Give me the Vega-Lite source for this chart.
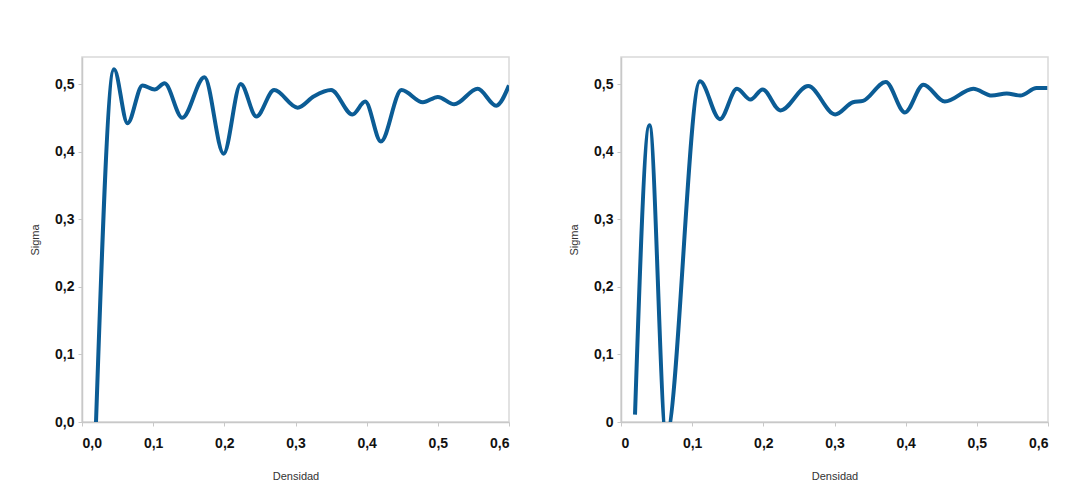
{
  "$schema": "https://vega.github.io/schema/vega-lite/v6.json",
  "background": "white",
  "padding": {"top": 56, "left": 28, "right": 10, "bottom": 5},
  "datasets": {
    "a": [
      {"d": 0.0197, "s": 0.0},
      {"d": 0.045, "s": 0.522},
      {"d": 0.064, "s": 0.442},
      {"d": 0.085, "s": 0.498},
      {"d": 0.102, "s": 0.492},
      {"d": 0.116, "s": 0.501},
      {"d": 0.141, "s": 0.450},
      {"d": 0.172, "s": 0.510},
      {"d": 0.199, "s": 0.397},
      {"d": 0.223, "s": 0.500},
      {"d": 0.245, "s": 0.452},
      {"d": 0.270, "s": 0.491},
      {"d": 0.303, "s": 0.465},
      {"d": 0.326, "s": 0.482},
      {"d": 0.350, "s": 0.491},
      {"d": 0.380, "s": 0.455},
      {"d": 0.398, "s": 0.474},
      {"d": 0.420, "s": 0.415},
      {"d": 0.449, "s": 0.491},
      {"d": 0.479, "s": 0.473},
      {"d": 0.500, "s": 0.481},
      {"d": 0.523, "s": 0.470},
      {"d": 0.556, "s": 0.493},
      {"d": 0.582, "s": 0.468},
      {"d": 0.600, "s": 0.498}
    ],
    "b": [
      {"d": 0.0197, "s": 0.011},
      {"d": 0.040, "s": 0.439},
      {"d": 0.0635, "s": -0.02},
      {"d": 0.111, "s": 0.504},
      {"d": 0.139, "s": 0.448},
      {"d": 0.163, "s": 0.493},
      {"d": 0.182, "s": 0.477},
      {"d": 0.199, "s": 0.492},
      {"d": 0.224, "s": 0.461},
      {"d": 0.263, "s": 0.497},
      {"d": 0.301, "s": 0.455},
      {"d": 0.326, "s": 0.473},
      {"d": 0.340, "s": 0.475},
      {"d": 0.372, "s": 0.503},
      {"d": 0.399, "s": 0.458},
      {"d": 0.425, "s": 0.499},
      {"d": 0.455, "s": 0.474},
      {"d": 0.495, "s": 0.493},
      {"d": 0.521, "s": 0.483},
      {"d": 0.542, "s": 0.486},
      {"d": 0.561, "s": 0.483},
      {"d": 0.584, "s": 0.494},
      {"d": 0.599, "s": 0.494}
    ]
  },
  "spacing": 56,
  "hconcat": [
    {
      "width": 427,
      "height": 365,
      "data": {"name": "a"},
      "mark": {"type": "line", "interpolate": "monotone", "color": "#0b5c95", "strokeWidth": 4, "clip": true},
      "encoding": {
        "x": {"field": "d", "type": "quantitative", "title": "Densidad",
              "scale": {"domain": [0, 0.6], "nice": false},
              "axis": {"values": [0, 0.1, 0.2, 0.3, 0.4, 0.5, 0.6], "labelExpr": "replace(format(datum.value, '.1f'), '.', ',')"}},
        "y": {"field": "s", "type": "quantitative", "title": "Sigma",
              "scale": {"domain": [0, 0.54], "nice": false},
              "axis": {"values": [0, 0.1, 0.2, 0.3, 0.4, 0.5], "labelExpr": "replace(format(datum.value, '.1f'), '.', ',')"}}
      }
    },
    {
      "width": 427,
      "height": 365,
      "data": {"name": "b"},
      "mark": {"type": "line", "interpolate": "monotone", "color": "#0b5c95", "strokeWidth": 4, "clip": true},
      "encoding": {
        "x": {"field": "d", "type": "quantitative", "title": "Densidad",
              "scale": {"domain": [0, 0.6], "nice": false},
              "axis": {"values": [0, 0.1, 0.2, 0.3, 0.4, 0.5, 0.6], "labelExpr": "datum.value == 0 ? '0' : replace(format(datum.value, '.1f'), '.', ',')"}},
        "y": {"field": "s", "type": "quantitative", "title": "Sigma",
              "scale": {"domain": [0, 0.54], "nice": false},
              "axis": {"values": [0, 0.1, 0.2, 0.3, 0.4, 0.5], "labelExpr": "datum.value == 0 ? '0' : replace(format(datum.value, '.1f'), '.', ',')"}}
      }
    }
  ],
  "config": {
    "font": "Liberation Sans",
    "view": {"stroke": "#d9d9d9", "strokeWidth": 1.5},
    "axis": {
      "grid": false,
      "domainColor": "#c8c8c8",
      "domainWidth": 1.5,
      "tickColor": "#c8c8c8",
      "tickSize": 4,
      "labelFont": "Liberation Sans",
      "labelFontWeight": "bold",
      "labelFontSize": 14,
      "labelColor": "#111111",
      "titleFont": "Liberation Sans",
      "titleFontWeight": "normal",
      "titleFontSize": 11,
      "titleColor": "#333333"
    },
    "axisX": {"labelPadding": 10, "titlePadding": 20},
    "axisY": {"labelPadding": 4, "titlePadding": 14}
  }
}
